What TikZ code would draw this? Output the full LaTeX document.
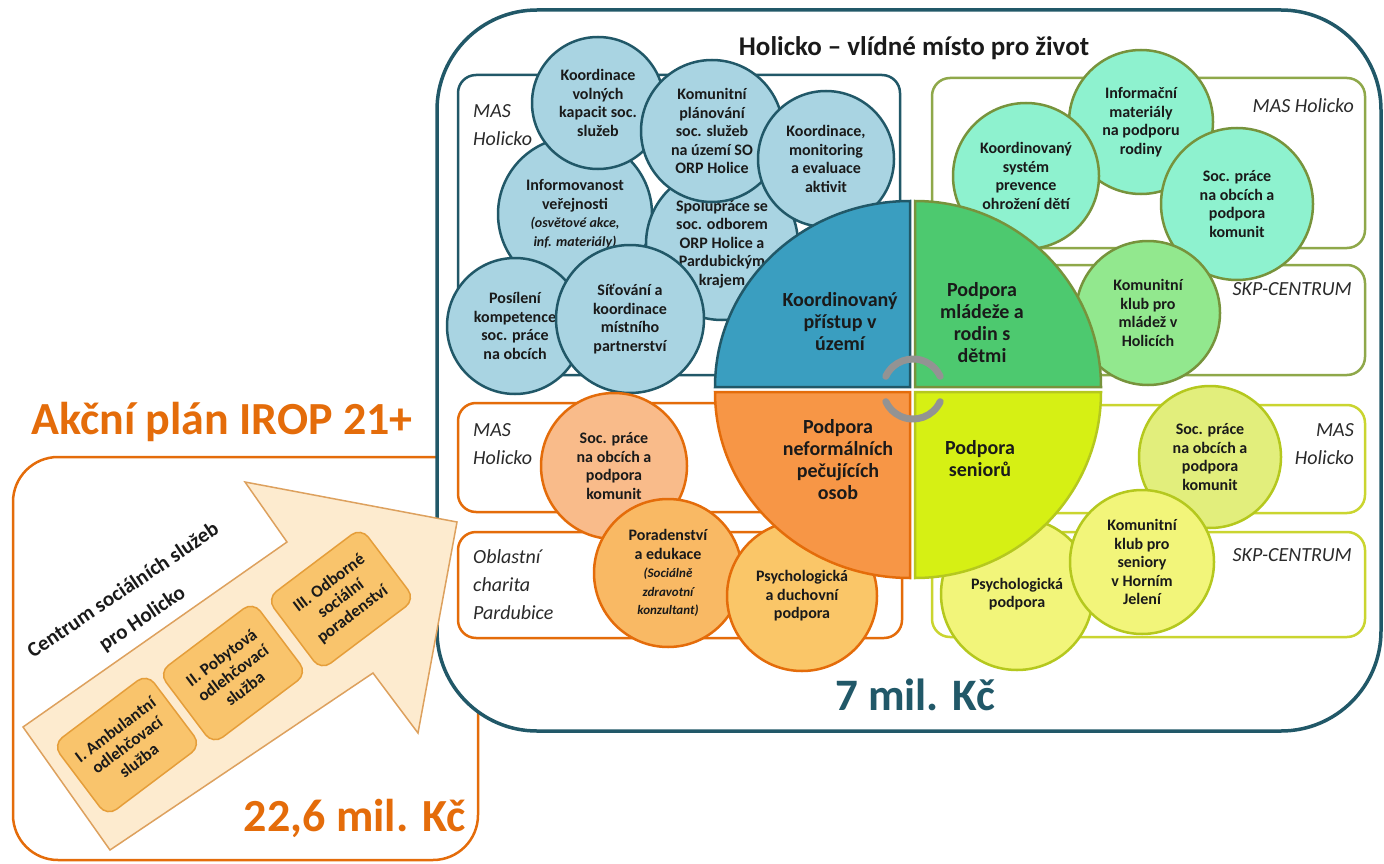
\documentclass[tikz,border=0pt]{standalone}
\usepackage{fontspec}
\setmainfont{Carlito}
\definecolor{teal}{HTML}{215868}
\definecolor{bluefill}{HTML}{A9D4E2}
\definecolor{blueq}{HTML}{3A9EC0}
\definecolor{greenq}{HTML}{4DC96F}
\definecolor{greenbd}{HTML}{77933C}
\definecolor{greenbox}{HTML}{8FA84A}
\definecolor{mint}{HTML}{8EF2CF}
\definecolor{lgreen}{HTML}{92E88E}
\definecolor{orangeq}{HTML}{F79646}
\definecolor{orangebd}{HTML}{E46C0A}
\definecolor{salmon}{HTML}{F9BB8A}
\definecolor{orfill}{HTML}{F9B964}
\definecolor{orfillb}{HTML}{FAC668}
\definecolor{yellowq}{HTML}{D6F014}
\definecolor{yellowbd}{HTML}{B5C81E}
\definecolor{yelbox}{HTML}{CAD530}
\definecolor{yelfa}{HTML}{E2EE7C}
\definecolor{yelfb}{HTML}{F2F57A}
\definecolor{arrowfill}{HTML}{FDEBCF}
\definecolor{arrowbd}{HTML}{DDA15E}
\definecolor{stepfill}{HTML}{F9C46C}
\definecolor{stepbd}{HTML}{E59E3A}
\definecolor{txt}{HTML}{1A1A1A}
\definecolor{itxt}{HTML}{2A2A2A}
\newcommand\ctext{\fontsize{16}{18.5}\selectfont\bfseries}
\newcommand\qtext{\fontsize{20}{22}\selectfont\bfseries}
\newcommand\ltext{\fontsize{20}{28}\selectfont\itshape}
\newcommand\smit{\fontsize{14}{17.5}\selectfont\itshape\bfseries}
\newcommand\smmit{\fontsize{13}{17.5}\selectfont\itshape\bfseries}
\begin{document}
\begin{tikzpicture}[x=1pt,y=-1pt,
  circ/.style={circle, draw, line width=2.5pt, inner sep=0pt, align=center, font=\ctext, text=txt},
  bc/.style={circ, draw=teal, fill=bluefill},
  gc/.style={circ, draw=greenbd, fill=mint},
  oc/.style={circ, draw=orangebd, fill=salmon},
  yc/.style={circ, draw=yellowbd, fill=yelfa},
  sub/.style={rounded corners=18pt, line width=2.5pt, fill=white},
  lab/.style={font=\ltext, text=itxt, align=left, inner sep=0pt},
  labr/.style={font=\ltext, text=itxt, align=right, inner sep=0pt},
  quad/.style={line width=2.5pt},
  qlab/.style={font=\qtext, text=txt, align=center, inner sep=0pt},
  garc/.style={draw=gray!85, line width=7pt, line cap=round},
  stepbox/.style={draw=stepbd, fill=stepfill, line width=1.5pt, rounded corners=12pt, minimum width=118pt, minimum height=90pt, align=center, inner sep=2pt, font=\fontsize{17}{19.5}\selectfont\bfseries, text=txt, rotate=37},
  big/.style={font=\fontsize{46}{50}\selectfont\bfseries, inner sep=0pt}
]
\useasboundingbox (0,0) rectangle (1384,864);

% left orange box and title
\node[big, text=orangebd, anchor=west] (akcni) at (31,422) {Akční plán IROP 21+};
\draw[draw=orangebd, line width=2.5pt, rounded corners=45pt] (13,457) rectangle (478,860);
\node[big, text=orangebd, anchor=east] (castka) at (466,818) {22,6 mil. Kč};

% big box
\draw[draw=teal, line width=3.5pt, fill=white, rounded corners=100pt] (437,10) rectangle (1381,731);
\node[font=\fontsize{27}{30}\selectfont\bfseries, text=txt] (title) at (914,48) {Holicko -- vlídné místo pro život};
\node[font=\fontsize{45}{48}\selectfont\bfseries, text=teal] (sedm) at (915,695) {7 mil. Kč};

% sub boxes
\draw[sub, draw=teal] (458,75) rectangle (900,375);
\draw[sub, draw=greenbox] (932,78) rectangle (1365,248);
\draw[sub, draw=greenbox] (932,265) rectangle (1365,375);
\draw[sub, draw=orangebd] (458,403) rectangle (903,512);
\draw[sub, draw=orangebd] (458,532) rectangle (902,638);
\draw[sub, draw=yelbox] (932,405) rectangle (1365,513);
\draw[sub, draw=yelbox] (932,532) rectangle (1365,637);

\node[lab, anchor=west] (lmas1) at (473,125) {MAS\\Holicko};
\node[labr, anchor=east] (lmas2) at (1354,106) {MAS Holicko};
\node[labr, anchor=east] (lskp1) at (1352,289) {SKP-CENTRUM};
\node[lab, anchor=west] (lmas3) at (473,444) {MAS\\Holicko};
\node[lab, anchor=west] (lobl) at (473,585) {Oblastní\\charita\\Pardubice};
\node[labr, anchor=east] (lmas4) at (1354,444) {MAS\\Holicko};
\node[labr, anchor=east] (lskp2) at (1352,555) {SKP-CENTRUM};

% blue circles
\node[bc, minimum size=154pt] (c4) at (575,214) {Informovanost\\veřejnosti\\{\smit (osvětové akce,}\\{\smit inf. materiály)}};
\node[bc, minimum size=132pt] (c1) at (598,103) {Koordinace\\volných\\kapacit soc.\\služeb};
\node[bc, minimum size=152pt] (c5) at (722,244) {Spolupráce se\\soc. odborem\\ORP Holice a\\Pardubickým\\krajem};
\node[bc, minimum size=142pt] (c2) at (712,131) {Komunitní\\plánování\\soc. služeb\\na území SO\\ORP Holice};
\node[bc, minimum size=136pt] (c3) at (826,159) {Koordinace,\\monitoring\\a evaluace\\aktivit};
\node[bc, minimum size=136pt] (c6) at (515,326) {Posílení\\kompetence\\soc. práce\\na obcích};
\node[bc, minimum size=148pt] (c7) at (630,319) {Síťování a\\koordinace\\místního\\partnerství};

% green circles
\node[gc, minimum size=144pt] (c9) at (1141,122) {Informační\\materiály\\na podporu\\rodiny};
\node[gc, minimum size=146pt] (c8) at (1026,176) {Koordinovaný\\systém\\prevence\\ohrožení dětí};
\node[gc, minimum size=152pt] (c10) at (1237,204) {Soc. práce\\na obcích a\\podpora\\komunit};
\node[gc, fill=lgreen, minimum size=144pt] (c11) at (1148,313) {Komunitní\\klub pro\\mládež v\\Holicích};

% orange circles
\node[oc, minimum size=146pt] (c12) at (614,466) {Soc. práce\\na obcích a\\podpora\\komunit};
\node[oc, fill=orfill, minimum size=148pt] (c13) at (668,573) {Poradenství\\a edukace\\{\smmit (Sociálně}\\{\smmit zdravotní}\\{\smmit konzultant)}};
\node[oc, fill=orfillb, minimum size=150pt] (c14) at (802,596) {Psychologická\\a duchovní\\podpora};

% yellow circles
\node[yc, minimum size=142pt] (c15) at (1210,457) {Soc. práce\\na obcích a\\podpora\\komunit};
\node[yc, fill=yelfb, minimum size=152pt] (c17) at (1017,594) {Psychologická\\podpora};
\node[yc, fill=yelfb, minimum size=144pt] (c16) at (1142,562) {Komunitní\\klub pro\\seniory\\v Horním\\Jelení};

% quadrants
\draw[quad, draw=teal, fill=blueq] (910,387) -- (910,201) arc[start angle=270, end angle=180, x radius=195, y radius=186] -- cycle;
\draw[quad, draw=greenbd, fill=greenq] (915,387) -- (915,201) arc[start angle=270, end angle=360, x radius=186, y radius=186] -- cycle;
\draw[quad, draw=orangebd, fill=orangeq] (910,392) -- (715,392) arc[start angle=180, end angle=90, x radius=195, y radius=186] -- cycle;
\draw[quad, draw=yellowbd, fill=yellowq] (915,392) -- (1101,392) arc[start angle=0, end angle=90, x radius=186, y radius=186] -- cycle;

\node[qlab] (q1) at (840,322) {Koordinovaný\\přístup v\\území};
\node[qlab] (q2) at (982,323) {Podpora\\mládeže a\\rodin s\\dětmi};
\node[qlab] (q3) at (838,460) {Podpora\\neformálních\\pečujících\\osob};
\node[qlab] (q4) at (980,459) {Podpora\\seniorů};

% circular arrows
\draw[garc] (913,389) ++(-155:30) arc[start angle=-155, end angle=-25, radius=30];
\draw[garc] (913,389) ++(25:30) arc[start angle=25, end angle=155, radius=30];

% big arrow
\draw[draw=arrowbd, fill=arrowfill, line width=1.5pt, line join=miter] (23,727) -- (287,542) -- (245,482) -- (457,522) -- (418,733) -- (373,673) -- (110,850) -- cycle;
\node[font=\fontsize{21}{34}\selectfont\bfseries, text=txt, rotate=34, align=center, inner sep=0pt] (centrum) at (133,605) {Centrum sociálních služeb\\pro Holicko};
\node[stepbox] (s1) at (127,745) {I. Ambulantní\\odlehčovací\\služba};
\node[stepbox] (s2) at (233,673) {II. Pobytová\\odlehčovací\\služba};
\node[stepbox] (s3) at (341,599) {III. Odborné\\sociální\\poradenství};
\end{tikzpicture}
\end{document}
